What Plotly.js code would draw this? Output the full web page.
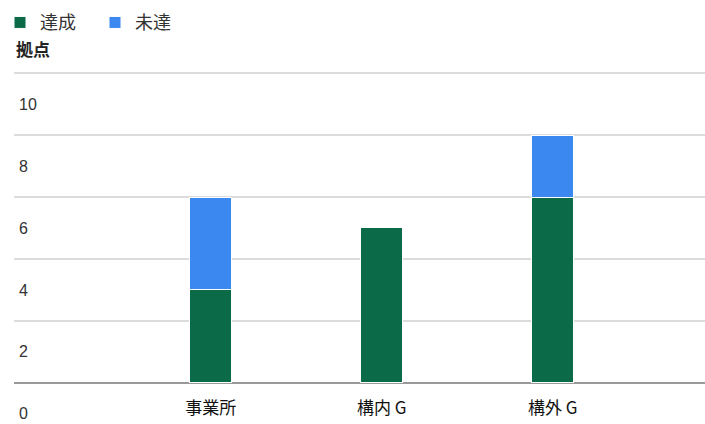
<!DOCTYPE html>
<html><head><meta charset="utf-8">
<script src="https://cdn.plot.ly/plotly-3.0.1.min.js"></script>
<style>html,body{margin:0;padding:0;background:#fff;}#chart{width:705px;height:424px;}</style>
</head><body><div id="chart"></div>
<script>
const categories = ['事業所', '構内 G', '構外 G'];
const achieved = [3, 5, 6];
const notAchieved = [3, 0, 2];
const yTickVals = [0, 2, 4, 6, 8, 10];
const yTickText = ['0', '2', '4', '6', '8', '10'];
const seriesNames = ['達成', '未達'];
const yTitle = '拠点';

const font = 'Noto Sans CJK JP, Noto Sans, sans-serif';
const traces = [
  {type:'bar', name: seriesNames[0], x: categories, y: achieved,
   marker:{color:'#0b6a47', line:{color:'#ffffff', width:1}}},
  {type:'bar', name: seriesNames[1], x: categories, y: notAchieved,
   marker:{color:'#3b88f0', line:{color:'#ffffff', width:1}}}
];
const layout = {
  width:705, height:424,
  margin:{l:14, r:0, t:67, b:1, pad:0},
  barmode:'stack', bargap:0.755,
  paper_bgcolor:'#fff', plot_bgcolor:'#fff',
  font:{family:font, color:'#222', size:15},
  showlegend:true,
  legend:{orientation:'h', xref:'container', yref:'container', x:0.0, y:0.99,
    xanchor:'left', yanchor:'top', font:{size:18, color:'#333'}, itemwidth:30, entrywidth:50,
    traceorder:'normal'},
  xaxis:{type:'category', range:[-1.15, 2.89], showgrid:false, zeroline:false, showline:false,
    ticks:'', ticklabelposition:'inside', ticklabelstandoff:3, tickfont:{size:17, color:'#111'}, fixedrange:true},
  yaxis:{range:[-1.3,10.2], tickvals:yTickVals, ticktext:yTickText, showgrid:true,
    gridcolor:'#dcdcdc', gridwidth:1.5, zeroline:true, zerolinecolor:'#9a9a9a', zerolinewidth:2,
    ticklabelposition:'inside', ticklabelshift:31, ticklabelstandoff:2,
    tickfont:{size:16, color:'#333', family:'Liberation Sans, Arial, sans-serif'}, ticks:''},
  annotations:[{xref:'paper', yref:'paper', x:0, y:1, yshift:4, xanchor:'left', yanchor:'bottom',
    text:'<b>'+yTitle+'</b>', showarrow:false, font:{size:17, color:'#222'}}]
};
Plotly.newPlot('chart', traces, layout, {displayModeBar:false, staticPlot:true});
</script></body></html>
